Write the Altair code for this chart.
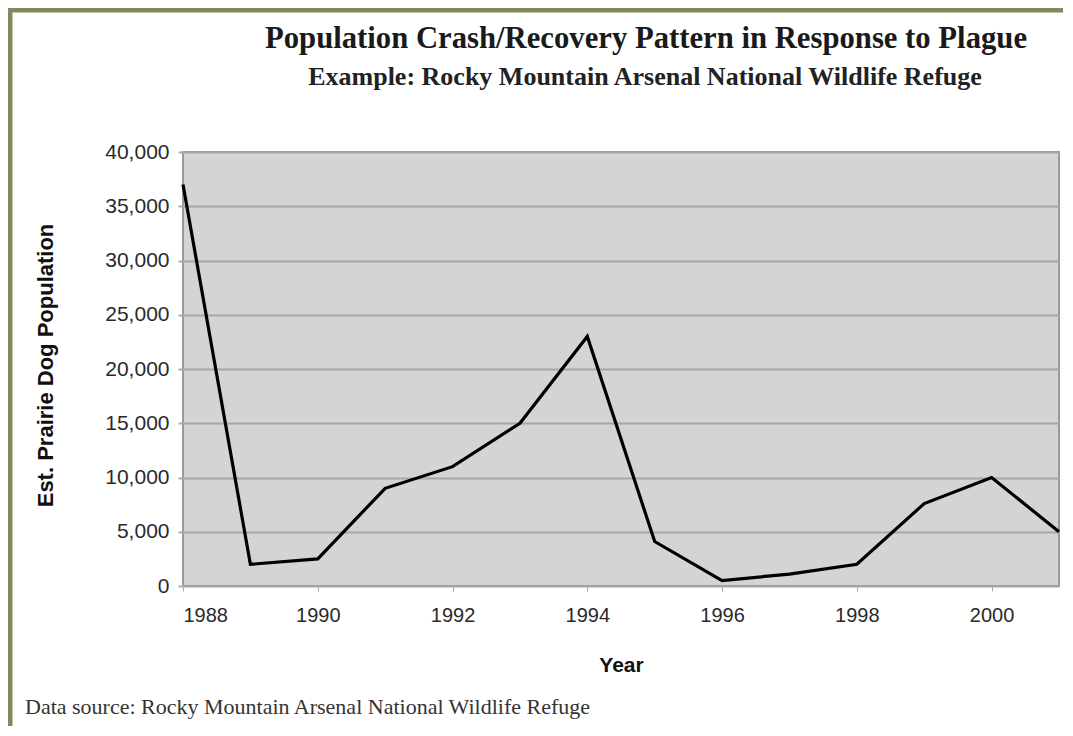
import altair as alt
import pandas as pd

years = [1988, 1989, 1990, 1991, 1992, 1993, 1994, 1995, 1996, 1997, 1998, 1999, 2000, 2001]
population = [37000, 2000, 2500, 9000, 11000, 15000, 23000, 4100, 500, 1100, 2000, 7600, 10000, 5000]
y_ticks = [0, 5000, 10000, 15000, 20000, 25000, 30000, 35000, 40000]
x_ticks = [1988, 1990, 1992, 1994, 1996, 1998, 2000]

title_text = "Population Crash/Recovery Pattern in Response to Plague"
subtitle_text = "Example: Rocky Mountain Arsenal National Wildlife Refuge"
source_text = "Data source: Rocky Mountain Arsenal National Wildlife Refuge"
x_title = "Year"
y_title = "Est. Prairie Dog Population"

df = pd.DataFrame({"Year": years, "Population": population})

line = alt.Chart(df).mark_line(color="black", strokeWidth=3.2, strokeJoin="miter").encode(
    x=alt.X(
        "Year:Q",
        scale=alt.Scale(domain=[1988, 2001], nice=False, zero=False),
        axis=alt.Axis(
            values=x_ticks, format="d", title=x_title, grid=False,
            domain=False, tickSize=5, tickColor="#aaaaaa", tickWidth=1,
            labelFont="Liberation Sans", labelFontSize=20, labelColor="#2a2a2a",
            labelPadding=14,
            titleFont="Liberation Sans", titleFontSize=21, titleFontWeight="bold",
            titleColor="#111111", titleY=79, titleBaseline="middle",
        ),
    ),
    y=alt.Y(
        "Population:Q",
        scale=alt.Scale(domain=[0, 40000], nice=False),
        axis=alt.Axis(
            values=y_ticks, format=",d", title=y_title, grid=True,
            gridColor="#a6a6a6", gridWidth=2, domain=False,
            tickSize=5, tickColor="#aaaaaa", tickWidth=2,
            labelFont="Liberation Sans", labelFontSize=21, labelColor="#2a2a2a",
            labelPadding=9,
            titleFont="Liberation Sans", titleFontSize=22, titleFontWeight="bold",
            titleColor="#111111", titleX=-138, titleY=213, titleAngle=-90,
            titleBaseline="middle", titleAlign="center",
        ),
    ),
)

title_mark = alt.Chart(pd.DataFrame({"t": [title_text]})).mark_text(
    align="center", baseline="alphabetic", font="Liberation Serif",
    fontSize=30.7, fontWeight="bold", color="#1a1a1a",
).encode(text="t:N", x=alt.value(463), y=alt.value(-104))

subtitle_mark = alt.Chart(pd.DataFrame({"t": [subtitle_text]})).mark_text(
    align="center", baseline="alphabetic", font="Liberation Serif",
    fontSize=26, fontWeight="bold", color="#222222",
).encode(text="t:N", x=alt.value(462), y=alt.value(-67))

source = alt.Chart(pd.DataFrame({"t": [source_text]})).mark_text(
    align="left", baseline="alphabetic", font="Liberation Serif",
    fontSize=22, color="#333333",
).encode(text="t:N", x=alt.value(-158), y=alt.value(562))

frame_df = pd.DataFrame({"k": [1]})
left_border = alt.Chart(frame_df).mark_rule(color="#7e8b5e", strokeWidth=5).encode(
    x=alt.value(-173), y=alt.value(-150), y2=alt.value(600)
)
top_border = alt.Chart(frame_df).mark_rule(color="#7e8b5e", strokeWidth=5).encode(
    x=alt.value(-180), x2=alt.value(900), y=alt.value(-142)
)

chart = alt.layer(line, title_mark, subtitle_mark, source, left_border, top_border).properties(
    width=876,
    height=434,
    padding={"left": 175, "top": 144, "right": 4, "bottom": 140},
    autosize=alt.AutoSizeParams(type="none"),
    background="white",
).configure_view(
    fill="#d4d4d4", stroke="#9a9a9a", strokeWidth=2
)

chart.save("out.html", embed_options={"renderer": "svg", "actions": False})
